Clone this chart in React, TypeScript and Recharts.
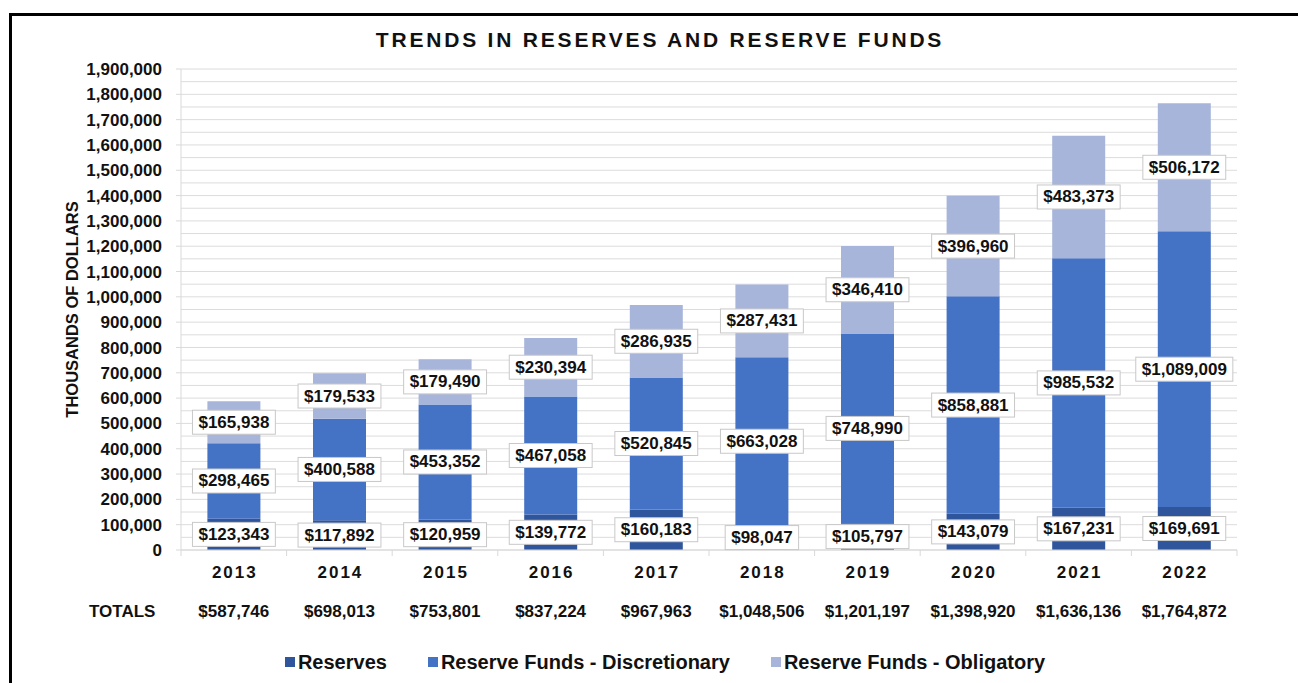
import React from 'react';
import { BarChart, Bar, XAxis, YAxis, CartesianGrid, Legend, LabelList } from 'recharts';

const years = ['2013', '2014', '2015', '2016', '2017', '2018', '2019', '2020', '2021', '2022'];
const reserves = [123343, 117892, 120959, 139772, 160183, 98047, 105797, 143079, 167231, 169691];
const discretionary = [298465, 400588, 453352, 467058, 520845, 663028, 748990, 858881, 985532, 1089009];
const obligatory = [165938, 179533, 179490, 230394, 286935, 287431, 346410, 396960, 483373, 506172];
const totals = [587746, 698013, 753801, 837224, 967963, 1048506, 1201197, 1398920, 1636136, 1764872];
const majorTicks = [0, 100000, 200000, 300000, 400000, 500000, 600000, 700000, 800000, 900000, 1000000, 1100000, 1200000, 1300000, 1400000, 1500000, 1600000, 1700000, 1800000, 1900000];
const minorTicks = [0, 50000, 100000, 150000, 200000, 250000, 300000, 350000, 400000, 450000, 500000, 550000, 600000, 650000, 700000, 750000, 800000, 850000, 900000, 950000, 1000000, 1050000, 1100000, 1150000, 1200000, 1250000, 1300000, 1350000, 1400000, 1450000, 1500000, 1550000, 1600000, 1650000, 1700000, 1750000, 1800000, 1850000, 1900000];
const seriesNames = ['Reserves', 'Reserve Funds - Discretionary', 'Reserve Funds - Obligatory'];
const seriesColors = ['#2F569C', '#4472C4', '#A7B5DB'];
const title = 'TRENDS IN RESERVES AND RESERVE FUNDS';
const yTitle = 'THOUSANDS OF DOLLARS';
const totalsLabel = 'TOTALS';

const data = years.map((y, i) => ({
  year: y,
  reserves: reserves[i],
  discretionary: discretionary[i],
  obligatory: obligatory[i],
  total: totals[i],
}));

const FONT = '"Liberation Sans", Arial, sans-serif';
const fmt = (v: number) => v.toLocaleString('en-US');
const money = (v: number) => '$' + fmt(v);

const textWidth = (s: string, size: number) => {
  let w = 0;
  for (const ch of s) w += ch === ',' ? 0.278 : 0.556;
  return w * size;
};

const ValueLabel = (props: any) => {
  const { x, y, width, height, value } = props;
  if (value == null) return null;
  const s = money(Number(value));
  const fs = 17;
  const bw = textWidth(s, fs) + 12;
  const bh = 24;
  const cx = Number(x) + Number(width) / 2;
  const cy = Number(y) + Number(height) / 2;
  return (
    <g>
      <rect x={cx - bw / 2} y={cy - bh / 2} width={bw} height={bh} fill="#FFFFFF" stroke="#C8C8C8" strokeWidth={1} />
      <text x={cx} y={cy} textAnchor="middle" dominantBaseline="central" fontFamily={FONT} fontWeight="bold" fontSize={fs} fill="#111">
        {s}
      </text>
    </g>
  );
};

const XTick = (props: any) => {
  const { x, y, payload, index, width, visibleTicksCount } = props;
  const band = Number(width) / Number(visibleTicksCount || 10);
  const axisY = Number(y) - 8;
  const i = index as number;
  return (
    <g>
      <line x1={x - band / 2} x2={x - band / 2} y1={axisY} y2={axisY + 6} stroke="#D9D9D9" />
      {i === (visibleTicksCount || 10) - 1 && (
        <line x1={x + band / 2} x2={x + band / 2} y1={axisY} y2={axisY + 6} stroke="#D9D9D9" />
      )}
      <text x={x + 1} y={axisY + 22} textAnchor="middle" dominantBaseline="central" fontFamily={FONT} fontWeight="bold" fontSize={17} letterSpacing={2} fill="#111">
        {payload.value}
      </text>
      <text x={x} y={axisY + 61} textAnchor="middle" dominantBaseline="central" fontFamily={FONT} fontWeight="bold" fontSize={17} fill="#111">
        {money(totals[i])}
      </text>
    </g>
  );
};

const YLabel = (props: any) => {
  const vb = props.viewBox || { x: 0, y: 0, width: 0, height: 0 };
  const cx = vb.x + 72;
  const cy = vb.y + vb.height / 2;
  return (
    <text x={cx} y={cy} transform={`rotate(-90 ${cx} ${cy})`} textAnchor="middle" dominantBaseline="central" fontFamily={FONT} fontWeight="bold" fontSize={16.5} fill="#111">
      {yTitle}
    </text>
  );
};

const LegendContent = () => (
  <div style={{ display: 'flex', justifyContent: 'center', alignItems: 'center', height: 30, fontFamily: FONT, fontWeight: 'bold', fontSize: 20, color: '#111', paddingLeft: 32 }}>
    {seriesNames.map((n, i) => (
      <div key={n} style={{ display: 'flex', alignItems: 'center', marginRight: i < seriesNames.length - 1 ? 41 : 0 }}>
        <span style={{ display: 'inline-block', width: 10, height: 10, background: seriesColors[i], marginRight: 3 }} />
        <span>{n}</span>
      </div>
    ))}
  </div>
);

export default function App() {
  return (
    <div style={{ position: 'absolute', left: 0, top: 0, width: 1298, height: 683, background: '#fff', overflow: 'hidden', fontFamily: FONT }}>
      <div style={{ position: 'absolute', left: 9, top: 13, width: 1400, height: 800, border: '3px solid #000', boxSizing: 'border-box' }} />
      <div style={{ position: 'absolute', left: 0, top: 27.5, width: 1320, textAlign: 'center', fontSize: 21, fontWeight: 'bold', letterSpacing: 2.8, lineHeight: '24px', color: '#111' }}>
        {title}
      </div>
      <div style={{ position: 'absolute', left: 89, top: 600, fontSize: 17, fontWeight: 'bold', lineHeight: '24px', color: '#111' }}>
        {totalsLabel}
      </div>
      <div style={{ position: 'absolute', left: 0, top: 0 }}>
        <BarChart width={1298} height={683} data={data} margin={{ top: 69, right: 61, bottom: 6, left: 0 }} barCategoryGap="25%">
          <CartesianGrid horizontal vertical={false} stroke="#DCDCDC" horizontalValues={minorTicks} />
          <XAxis dataKey="year" height={97} tick={<XTick />} tickLine={false} axisLine={{ stroke: '#D9D9D9' }} interval={0} />
          <YAxis
            width={181}
            domain={[0, 1900000]}
            ticks={majorTicks}
            interval={0}
            tickFormatter={(v: number) => fmt(v)}
            tick={{ fontFamily: FONT, fontWeight: 'bold', fontSize: 17, fill: '#111' }}
            tickLine={{ stroke: '#D9D9D9' }}
            tickSize={5}
            tickMargin={14}
            axisLine={{ stroke: '#D9D9D9' }}
            label={{ content: <YLabel /> }}
          />
          <Legend verticalAlign="bottom" content={<LegendContent />} wrapperStyle={{ left: 0, width: 1298 }} />
          <Bar dataKey="reserves" name={seriesNames[0]} stackId="a" fill={seriesColors[0]} isAnimationActive={false}>
            <LabelList dataKey="reserves" content={<ValueLabel />} />
          </Bar>
          <Bar dataKey="discretionary" name={seriesNames[1]} stackId="a" fill={seriesColors[1]} isAnimationActive={false}>
            <LabelList dataKey="discretionary" content={<ValueLabel />} />
          </Bar>
          <Bar dataKey="obligatory" name={seriesNames[2]} stackId="a" fill={seriesColors[2]} isAnimationActive={false}>
            <LabelList dataKey="obligatory" content={<ValueLabel />} />
          </Bar>
        </BarChart>
      </div>
    </div>
  );
}
